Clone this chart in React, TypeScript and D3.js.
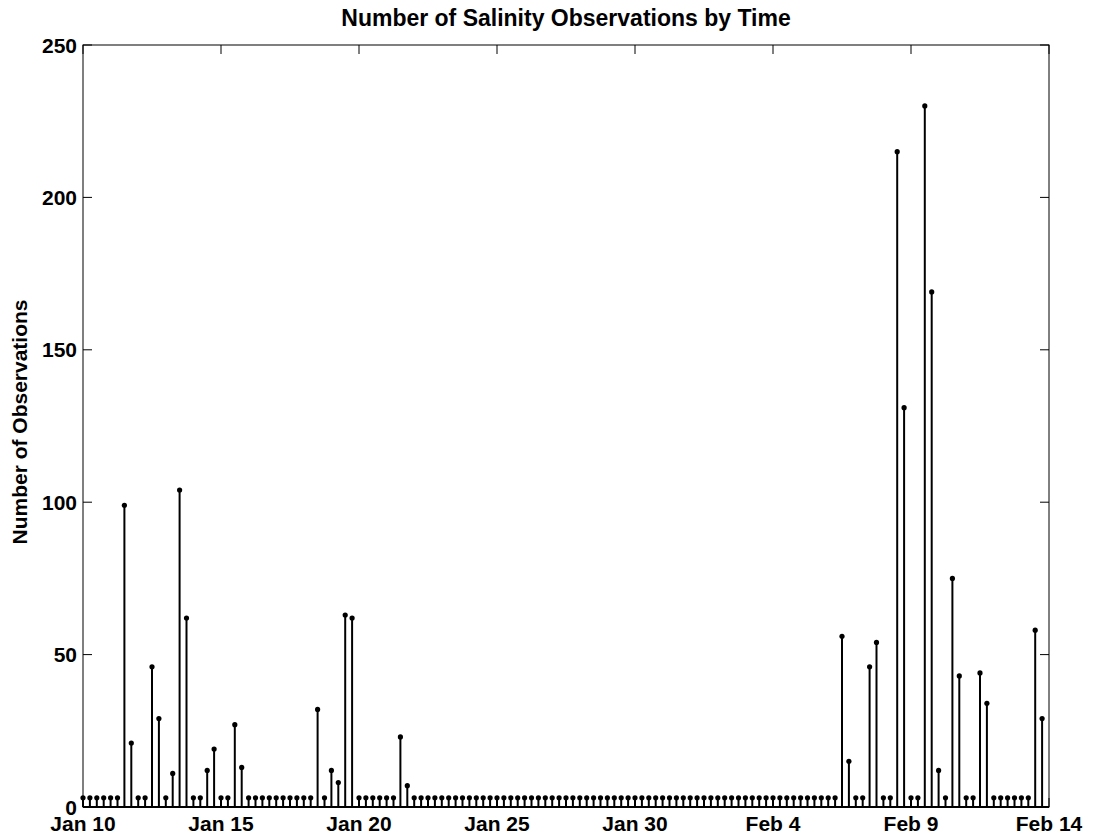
import React from "react";
import * as d3 from "d3";

const startDate = new Date(Date.UTC(2000, 0, 10));
const stepHours = 6;
const counts: number[] = [
  3, 3, 3, 3, 3, 3, 99, 21, 3, 3, 46, 29, 3, 11, 104, 62, 3, 3, 12, 19,
  3, 3, 27, 13, 3, 3, 3, 3, 3, 3, 3, 3, 3, 3, 32, 3, 12, 8, 63, 62,
  3, 3, 3, 3, 3, 3, 23, 7, 3, 3, 3, 3, 3, 3, 3, 3, 3, 3, 3, 3,
  3, 3, 3, 3, 3, 3, 3, 3, 3, 3, 3, 3, 3, 3, 3, 3, 3, 3, 3, 3,
  3, 3, 3, 3, 3, 3, 3, 3, 3, 3, 3, 3, 3, 3, 3, 3, 3, 3, 3, 3,
  3, 3, 3, 3, 3, 3, 3, 3, 3, 3, 56, 15, 3, 3, 46, 54, 3, 3, 215, 131,
  3, 3, 230, 169, 12, 3, 75, 43, 3, 3, 44, 34, 3, 3, 3, 3, 3, 3, 58, 29,
];
const xTickLabels = ["Jan 10", "Jan 15", "Jan 20", "Jan 25", "Jan 30", "Feb 4", "Feb 9", "Feb 14"];
const xTickDayOffsets = [0, 5, 10, 15, 20, 25, 30, 35];
const yTicks = [0, 50, 100, 150, 200, 250];

const W = 1100;
const H = 839;
const left = 83;
const right = 1049;
const top = 45;
const bottom = 807;
const font = "'Liberation Sans', Arial, Helvetica, sans-serif";

export default function App() {
  const endDate = new Date(startDate.getTime() + 35 * 86400000);
  const x = d3.scaleUtc().domain([startDate, endDate]).range([left, right]);
  const y = d3.scaleLinear().domain([0, 250]).range([bottom, top]);
  const pts = counts.map((c, i) => ({
    t: new Date(startDate.getTime() + i * stepHours * 3600000),
    c,
  }));
  const tickDates = xTickDayOffsets.map((d) => new Date(startDate.getTime() + d * 86400000));
  const tl = 9;
  return (
    <svg
      width={W}
      height={H}
      style={{ position: "absolute", left: 0, top: 0, background: "#fff" }}
      fontFamily={font}
    >
      <rect x={0} y={0} width={W} height={H} fill="#fff" />
      {pts.map((p, i) => (
        <line
          key={"s" + i}
          x1={x(p.t)}
          x2={x(p.t)}
          y1={y(0)}
          y2={y(p.c)}
          stroke="#000"
          strokeWidth={2}
        />
      ))}
      {pts.map((p, i) => (
        <circle key={"m" + i} cx={x(p.t)} cy={y(p.c)} r={2.6} fill="#000" />
      ))}
      <line x1={left} x2={right} y1={y(0)} y2={y(0)} stroke="#000" strokeWidth={2} />
      <rect x={left} y={top} width={right - left} height={bottom - top} fill="none" stroke="#000" strokeWidth={1} />
      {yTicks.map((v) => (
        <g key={"y" + v}>
          <line x1={left} x2={left + tl} y1={y(v)} y2={y(v)} stroke="#000" strokeWidth={1} />
          <line x1={right} x2={right - tl} y1={y(v)} y2={y(v)} stroke="#000" strokeWidth={1} />
          <text
            x={left - 6}
            y={y(v)}
            textAnchor="end"
            dominantBaseline="central"
            fontSize={21}
            fontWeight="bold"
          >
            {v}
          </text>
        </g>
      ))}
      {tickDates.map((d, i) => (
        <g key={"x" + i}>
          <line x1={x(d)} x2={x(d)} y1={bottom} y2={bottom - tl} stroke="#000" strokeWidth={1} />
          <line x1={x(d)} x2={x(d)} y1={top} y2={top + tl} stroke="#000" strokeWidth={1} />
          <text x={x(d)} y={831} textAnchor="middle" fontSize={21} fontWeight="bold">
            {xTickLabels[i]}
          </text>
        </g>
      ))}
      <text x={(left + right) / 2} y={26} textAnchor="middle" fontSize={23} fontWeight="bold">
        Number of Salinity Observations by Time
      </text>
      <text
        transform={`translate(27, ${(top + bottom) / 2 - 4}) rotate(-90)`}
        textAnchor="middle"
        fontSize={21}
        fontWeight="bold"
      >
        Number of Observations
      </text>
    </svg>
  );
}
